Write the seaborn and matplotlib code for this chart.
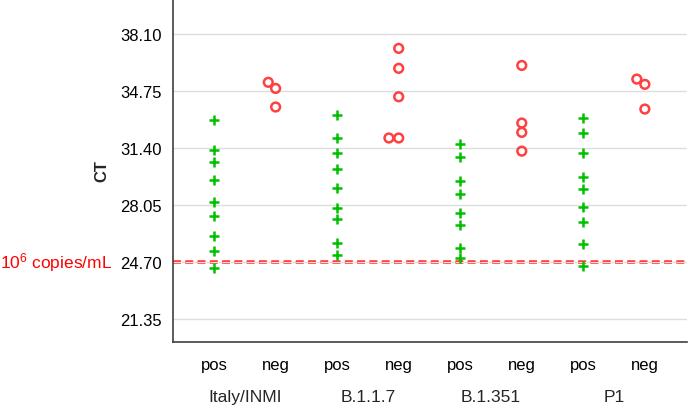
import numpy as np
import pandas as pd
import matplotlib
matplotlib.use('Agg')
import matplotlib.pyplot as plt
import seaborn as sns

# CT values per variant
groups = ['Italy/INMI', 'B.1.1.7', 'B.1.351', 'P1']
italy_pos = [33.05, 31.27, 30.59, 29.49, 28.20, 27.40, 26.21, 25.32, 24.33]
italy_neg = [35.25, 34.89, 33.80]
b117_pos = [33.33, 31.96, 31.10, 30.14, 29.02, 27.88, 27.20, 25.79, 25.09]
b117_neg = [37.24, 36.07, 34.40, 31.98, 31.98]
b1351_pos = [31.61, 30.86, 29.47, 28.71, 27.56, 26.85, 25.50, 24.91]
b1351_neg = [36.24, 32.86, 32.31, 31.21]
p1_pos = [33.15, 32.27, 31.11, 29.70, 28.96, 27.91, 27.06, 25.74, 24.48]
p1_neg = [35.44, 35.13, 33.68]
yticks = [21.35, 24.70, 28.05, 31.40, 34.75, 38.10]
threshold = 24.70
threshold_label = r'$\mathregular{10^6}$ copies/mL'

pos_vals = [italy_pos, b117_pos, b1351_pos, p1_pos]
neg_vals = [italy_neg, b117_neg, b1351_neg, p1_neg]

rows = []
for g, pv, nv in zip(groups, pos_vals, neg_vals):
    rows += [(g + ' pos', 'pos', v) for v in pv]
    rows += [(g + ' neg', 'neg', v) for v in nv]
df = pd.DataFrame(rows, columns=['cat', 'status', 'ct'])
order = [g + ' ' + s for g in groups for s in ['pos', 'neg']]

sns.set_style('white')
plt.rcParams['font.family'] = ['Liberation Sans', 'DejaVu Sans']
plt.rcParams['mathtext.fontset'] = 'custom'
plt.rcParams['mathtext.rm'] = 'Liberation Sans'

fig = plt.figure(figsize=(6.88, 4.10), dpi=100)
ax = fig.add_axes([0.2515, 0.164, 0.7475, 0.836])

green = '#00c000'
red = '#ff4040'

sns.stripplot(data=df[df.status == 'pos'], x='cat', y='ct', order=order,
              jitter=False, marker='+', size=7, color=green, linewidth=1.8,
              ax=ax, zorder=3)
n_before = len(ax.collections)
sns.swarmplot(data=df[df.status == 'neg'], x='cat', y='ct', order=order,
              marker='o', size=5.1, color=red, ax=ax, zorder=3)
for circ in ax.collections[n_before:]:
    circ.set_facecolor('none')
    circ.set_edgecolor(red)
    circ.set_linewidth(1.6)

ax.set_ylim(20.02, 40.14)
ax.set_xlim(-0.667, 7.69)
ax.set_yticks(yticks)
ax.set_yticklabels([f'{t:.2f}' for t in yticks])
ax.set_xticks(range(len(order)))
ax.set_xticklabels([o.split(' ')[-1] for o in order])
ax.yaxis.grid(True, color='#dedede', lw=1)
ax.set_axisbelow(True)

# threshold line (double dashed)
ax.axhline(threshold, color=red, lw=2.6, ls=(0, (2.2, 1.2)), zorder=2)
ax.axhline(threshold, color='white', lw=0.6, ls=(0, (2.2 * 2.6 / 0.6, 1.2 * 2.6 / 0.6)), zorder=2)
ax.annotate(threshold_label, xy=(0, threshold), xycoords=('axes fraction', 'data'),
            xytext=(-44, 0), textcoords='offset points', ha='right', va='center',
            color='red', fontsize=12.5)

for sp in ['top', 'right']:
    ax.spines[sp].set_visible(False)
for sp in ['left', 'bottom']:
    ax.spines[sp].set_color('#404040')
    ax.spines[sp].set_linewidth(1.2)
ax.tick_params(axis='both', colors='#404040', labelcolor='black', width=1.2)
ax.tick_params(axis='y', length=5, pad=3, labelsize=12)
ax.tick_params(axis='x', length=6, pad=5, labelsize=12)

ax.set_xlabel('')
ax.set_ylabel('CT', fontweight='bold', fontsize=12, labelpad=8)

for i, g in enumerate(groups):
    ax.text(2 * i + 0.5, -0.161, g, transform=ax.get_xaxis_transform(),
            ha='center', va='center', fontsize=12.5)

# lay out the swarm once, then freeze it and draw the circles a bit larger
fig.canvas.draw()
for circ in ax.collections[n_before:]:
    if 'draw' in circ.__dict__:
        del circ.draw
    circ.set_sizes([6.3 ** 2])
    circ.set_linewidth(1.8)

fig.savefig('out.png', dpi=100)
